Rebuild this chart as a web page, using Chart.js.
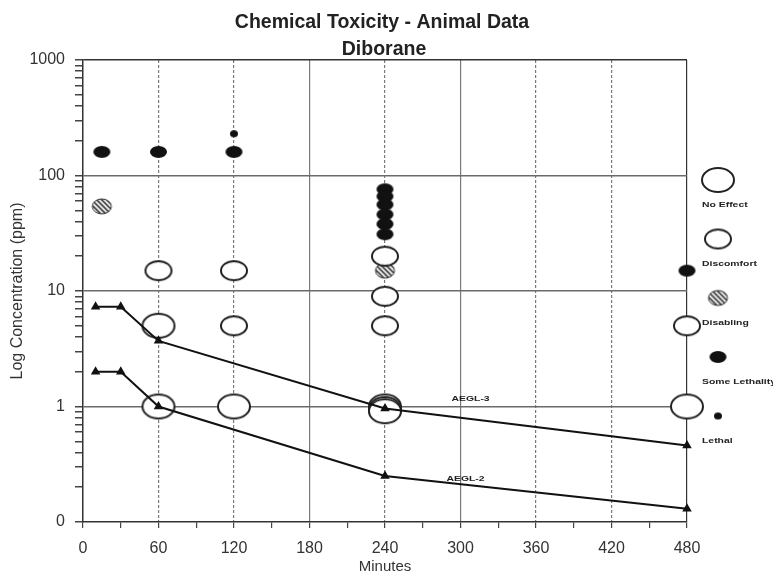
<!DOCTYPE html>
<html>
<head>
<meta charset="utf-8">
<script src="https://cdn.jsdelivr.net/npm/chart.js@4.4.1/dist/chart.umd.min.js"></script>
<style>
  html, body { margin: 0; padding: 0; background: #fff; }
  #wrap { width: 773px; height: 574px; }
</style>
</head>
<body>
<div id="wrap"><canvas id="chart" width="773" height="574"></canvas></div>
<script>
// AEGL guideline values (ppm) by exposure time (minutes)
const aeglMinutes = [10, 30, 60, 240, 480];
const aegl3 = [7.3, 7.3, 3.7, 0.96, 0.46];
const aegl2 = [2.0, 2.0, 1.0, 0.25, 0.13];

// animal data
const noEffectX = [60, 60, 120, 240, 240, 240, 480];
const noEffectY = [5, 1, 1, 1, 0.95, 0.91, 1];
const discomfortX = [60, 120, 120, 240, 240, 240, 480];
const discomfortY = [15, 15, 5, 20, 9, 5, 5];
const disablingX = [15, 240];
const disablingY = [54, 15];
const someLethalityX = [15, 60, 120, 240, 240, 240, 240, 240, 240, 480];
const someLethalityY = [160, 160, 160, 76, 66, 56, 46, 38, 31, 15];
const lethalX = [120];
const lethalY = [230];

const xTicksLabelled = [0, 60, 120, 180, 240, 300, 360, 420, 480];
const yDecades = [0.1, 1, 10, 100, 1000];
const yDecadeLabels = ['0', '1', '10', '100', '1000'];

const FONT = '"Liberation Sans", Arial, sans-serif';

function pts(xs, ys) {
    return xs.map((x, i) => ({x: x, y: ys[i]}));
}

// marker images
function ellipseMarker(w, h, fill, stroke, hatch) {
    const c = document.createElement('canvas');
    c.width = w + 4;
    c.height = h + 4;
    const g = c.getContext('2d');
    g.beginPath();
    g.ellipse(c.width / 2, c.height / 2, w / 2, h / 2, 0, 0, 2 * Math.PI);
    g.fillStyle = fill;
    g.fill();
    if (hatch) {
        g.save();
        g.clip();
        g.strokeStyle = '#fff';
        g.lineWidth = 1.6;
        for (let i = -c.height; i < c.width + c.height; i += 5) {
            g.beginPath();
            g.moveTo(i, 0);
            g.lineTo(i + c.height, c.height);
            g.stroke();
        }
        g.restore();
        g.beginPath();
        g.ellipse(c.width / 2, c.height / 2, w / 2, h / 2, 0, 0, 2 * Math.PI);
        g.strokeStyle = '#333';
        g.lineWidth = 1;
        g.stroke();
    }
    if (stroke) {
        g.strokeStyle = stroke;
        g.lineWidth = 2;
        g.stroke();
    }
    return c;
}

const mkNoEffect = ellipseMarker(32, 24, '#fff', '#222');
const mkDiscomfort = ellipseMarker(26, 19, '#fff', '#222');
const mkDisabling = ellipseMarker(19, 15, '#444', null, true);
const mkSomeLethality = ellipseMarker(17, 12, '#111');
const mkLethal = ellipseMarker(8, 7, '#111');

function markerSet(label, data, marker) {
    return {
        type: 'scatter',
        label: label,
        data: data,
        pointStyle: marker,
        pointRadius: 6,
        showLine: false,
        clip: false
    };
}

function aeglSet(label, values) {
    return {
        type: 'scatter',
        label: label,
        data: pts(aeglMinutes, values),
        showLine: true,
        borderColor: '#111',
        borderWidth: 2,
        pointStyle: 'triangle',
        pointRadius: 3.5,
        pointBackgroundColor: '#111',
        pointBorderColor: '#111',
        clip: false,
        legendHide: true
    };
}

// small, wide labels as in the source picture
function wideText(c, text, x, y, align) {
    c.save();
    c.translate(x, y);
    c.scale(1.3, 1);
    c.textAlign = align;
    c.fillText(text, 0, 0);
    c.restore();
}

// titles, AEGL labels and the side legend
const annotate = {
    id: 'annotate',
    afterDraw(chart) {
        const c = chart.ctx;
        const xs = chart.scales.x, ys = chart.scales.y;
        c.save();
        c.fillStyle = '#222';
        c.textAlign = 'center';
        c.textBaseline = 'alphabetic';
        c.font = 'bold 19.5px ' + FONT;
        c.fillText('Chemical Toxicity - Animal Data', 382, 28);
        c.fillText('Diborane', 384, 55);

        c.textBaseline = 'middle';
        c.font = 'bold 8px ' + FONT;
        wideText(c, 'AEGL-3', xs.getPixelForValue(308), ys.getPixelForValue(1.17), 'center');
        wideText(c, 'AEGL-2', xs.getPixelForValue(304), ys.getPixelForValue(0.235), 'center');

        // side legend
        let y = 180;
        chart.data.datasets.forEach(ds => {
            if (ds.legendHide) return;
            const m = ds.pointStyle;
            c.drawImage(m, 718 - m.width / 2, y - m.height / 2);
            wideText(c, ds.label, 702, y + 25, 'left');
            y += 59;
        });
        c.restore();
    }
};

new Chart(document.getElementById('chart'), {
    type: 'scatter',
    data: {
        datasets: [
            aeglSet('AEGL-3', aegl3),
            aeglSet('AEGL-2', aegl2),
            markerSet('No Effect', pts(noEffectX, noEffectY), mkNoEffect),
            markerSet('Discomfort', pts(discomfortX, discomfortY), mkDiscomfort),
            markerSet('Disabling', pts(disablingX, disablingY), mkDisabling),
            markerSet('Some Lethality', pts(someLethalityX, someLethalityY), mkSomeLethality),
            markerSet('Lethal', pts(lethalX, lethalY), mkLethal)
        ]
    },
    options: {
        responsive: false,
        animation: false,
        events: [],
        layout: {padding: {top: 60, right: 86, left: 0, bottom: 0}},
        plugins: {
            legend: {display: false},
            tooltip: {enabled: false},
            title: {display: false}
        },
        scales: {
            x: {
                type: 'linear',
                min: 0,
                max: 480,
                afterFit(scale) { scale.height = 52; },
                ticks: {
                    stepSize: 30,
                    autoSkip: false,
                    maxRotation: 0,
                    color: '#333',
                    padding: 11,
                    font: {family: FONT, size: 16},
                    callback: v => xTicksLabelled.includes(v) ? String(v) : ''
                },
                grid: {
                    color: ctx => {
                        const v = ctx.tick ? ctx.tick.value : null;
                        if (v === 480) return '#333';
                        return (v % 60 === 0 && v > 0) ? '#7a7a7a' : 'rgba(0,0,0,0)';
                    },
                    lineWidth: 1.2,
                    tickColor: '#444',
                    tickLength: 6
                },
                border: {
                    color: '#333',
                    width: 1.5,
                    dash: ctx => {
                        const v = ctx.tick ? ctx.tick.value : null;
                        return (v === 180 || v === 300 || v === 480 || v === null) ? [] : [3, 2];
                    }
                },
                title: {
                    display: true,
                    text: 'Minutes',
                    color: '#333',
                    padding: {top: 0, bottom: -2},
                    font: {family: FONT, size: 15}
                }
            },
            y: {
                type: 'logarithmic',
                min: 0.1,
                max: 1000,
                afterFit(scale) { scale.width = 83; },
                afterBuildTicks(scale) {
                    const ticks = [];
                    yDecades.forEach((d, i) => {
                        if (i === yDecades.length - 1) {
                            ticks.push({value: d});
                            return;
                        }
                        for (let k = 1; k < 10; k++) ticks.push({value: d * k});
                    });
                    scale.ticks = ticks;
                },
                ticks: {
                    autoSkip: false,
                    color: '#333',
                    padding: 10,
                    font: {family: FONT, size: 16},
                    callback: function (v) {
                        const i = yDecades.findIndex(d => Math.abs(d - v) < d * 1e-6);
                        return i >= 0 ? yDecadeLabels[i] : '';
                    }
                },
                grid: {
                    color: ctx => {
                        const v = ctx.tick ? ctx.tick.value : null;
                        if (v === 1000) return '#333';
                        const major = yDecades.some(d => Math.abs(d - v) < d * 1e-6);
                        return (major && v > 0.1) ? '#6a6a6a' : 'rgba(0,0,0,0)';
                    },
                    lineWidth: 1.5,
                    tickColor: '#444',
                    tickLength: 8
                },
                border: {color: '#333', width: 1.5},
                title: {
                    display: true,
                    text: 'Log Concentration (ppm)',
                    color: '#333',
                    padding: {top: 8, bottom: 0},
                    font: {family: FONT, size: 16}
                }
            }
        }
    },
    plugins: [annotate]
});
</script>
</body>
</html>
